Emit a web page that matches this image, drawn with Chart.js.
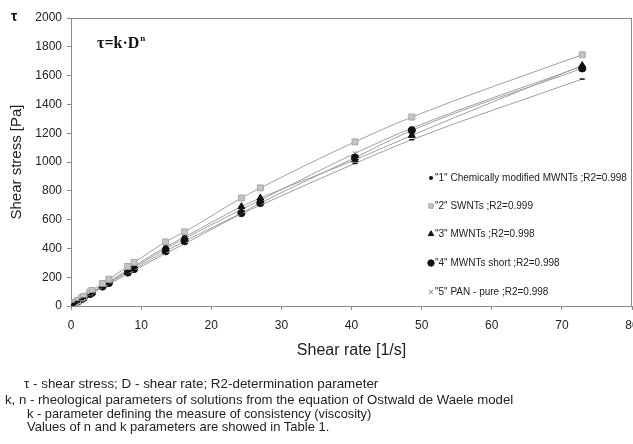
<!DOCTYPE html>
<html>
<head>
<meta charset="utf-8">
<script src="https://cdn.jsdelivr.net/npm/chart.js@4/dist/chart.umd.min.js"></script>
<style>
  html, body { margin: 0; padding: 0; background: #fff; }
  #wrap { position: relative; width: 633px; height: 444px; overflow: hidden; }
  #wrap canvas { position: absolute; left: 0; top: 0; }
  .note {
    position: absolute;
    font: 13px "Liberation Sans", Arial, sans-serif;
    color: #222;
    white-space: nowrap;
    line-height: 14px;
  }
</style>
</head>
<body>
<div id="wrap">
  <canvas id="chart" width="633" height="444"></canvas>
  <div class="note" style="left:24px; top:377px; font-size:13.4px">τ - shear stress; D - shear rate; R2-determination parameter</div>
  <div class="note" style="left:5px; top:393px; font-size:13.2px">k, n - rheological parameters of solutions from the equation of Ostwald de Waele model</div>
  <div class="note" style="left:27px; top:407px; font-size:12.8px">k - parameter defining the measure of consistency (viscosity)</div>
  <div class="note" style="left:27px; top:420px">Values of n and k parameters are showed in Table 1.</div>
</div>
<script>
// shear rates of the rheometer [1/s]
const shearRate = [0.1667, 0.3, 0.333, 0.5, 0.6, 0.9, 1.0, 1.5, 1.8, 2.7, 3.0, 4.5, 5.4, 8.1, 9.0, 13.5, 16.2, 24.3, 27.0, 40.5, 48.6, 72.9];

// shear stress [Pa]
const chemModified = [6, 10, 11, 16, 19, 28, 31, 45, 54, 78, 87, 128, 152, 222, 246, 365, 432, 640, 700, 990, 1155, 1576];
const swnts = [7, 13, 14, 20, 24, 35, 38, 56, 67, 97, 108, 156, 186, 275, 303, 445, 515, 750, 820, 1140, 1312, 1745];
const mwnts = [6, 12, 13, 18, 22, 32, 35, 51, 61, 88, 97, 143, 170, 250, 276, 410, 480, 690, 750, 1015, 1185, 1670];
const mwntsShort = [6, 11, 12, 17, 21, 30, 33, 48, 57, 83, 92, 135, 160, 232, 257, 380, 450, 645, 715, 1030, 1220, 1650];
const panPure = [6, 11, 12, 18, 21, 31, 34, 50, 59, 86, 95, 140, 166, 243, 268, 398, 468, 670, 735, 1060, 1235, 1665];

const seriesLabels = [
  '"1" Chemically modified MWNTs ;R2=0.998',
  '"2" SWNTs ;R2=0.999',
  '"3" MWNTs ;R2=0.998',
  '"4" MWNTs short ;R2=0.998',
  '"5" PAN - pure ;R2=0.998',
];

const xTicks = [0, 10, 20, 30, 40, 50, 60, 70, 80];
const yTicks = [0, 200, 400, 600, 800, 1000, 1200, 1400, 1600, 1800, 2000];

const font = '"Liberation Sans", Arial, sans-serif';
const lineColor = "#a0a0a0";
const axisColor = "#8a8a8a";

function series(label, values, style) {
  return {
    label,
    data: shearRate.map((x, i) => ({ x, y: values[i] })),
    showLine: true,
    cubicInterpolationMode: "monotone",
    borderColor: lineColor,
    borderWidth: 1,
    pointStyle: style.pointStyle,
    pointRadius: style.radius,
    pointBackgroundColor: style.fill,
    pointBorderColor: style.stroke,
    pointBorderWidth: style.borderWidth ?? 1,
  };
}

const styles = [
  { pointStyle: "line", radius: 2.5, fill: "#111", stroke: "#111", borderWidth: 1.5 },
  { pointStyle: "rect", radius: 4.2, fill: "#c4c4c4", stroke: "#a8a8a8" },
  { pointStyle: "triangle", radius: 4, fill: "#111", stroke: "#111" },
  { pointStyle: "circle", radius: 3.6, fill: "#111", stroke: "#111" },
  { pointStyle: "crossRot", radius: 3, fill: "#aaa", stroke: "#a0a0a0", borderWidth: 1.2 },
];

// legend drawn inside the plot, plus the frame and the formula
const overlay = {
  id: "overlay",
  beforeDatasetsDraw(chart) {
    const { ctx, chartArea: a } = chart;
    ctx.save();
    ctx.strokeStyle = axisColor;
    ctx.lineWidth = 1;
    ctx.strokeRect(Math.round(a.left) + 0.5, Math.round(a.top) + 0.5,
      Math.round(a.right - a.left) - 1, Math.round(a.bottom - a.top));
    ctx.restore();
  },
  afterDatasetsDraw(chart) {
    const { ctx } = chart;
    ctx.save();
    // formula
    ctx.fillStyle = "#111";
    ctx.textBaseline = "middle";
    ctx.font = 'bold 16px "Liberation Serif", "Times New Roman", serif';
    ctx.fillText("τ=k·D", 97, 44);
    const w = ctx.measureText("τ=k·D").width;
    ctx.font = 'bold 9px "Liberation Serif", "Times New Roman", serif';
    ctx.fillText("n", 97 + w + 1, 39);
    // axis symbol
    ctx.font = `bold 14px ${font}`;
    ctx.fillText("τ", 11, 17);

    // legend
    const rows = [178, 206, 234, 263, 292];
    ctx.font = `10px ${font}`;
    chart.data.datasets.forEach((ds, i) => {
      const st = styles[i];
      ctx.fillStyle = st.fill;
      ctx.strokeStyle = st.stroke;
      ctx.lineWidth = st.borderWidth ?? 1;
      const legendStyle = i === 0 ? "circle" : st.pointStyle;
      const r = i === 0 ? 1.3 : Math.min(st.radius, 3.2);
      Chart.helpers.drawPoint(ctx, { pointStyle: legendStyle, radius: r, rotation: 0, borderWidth: ctx.lineWidth }, 431, rows[i]);
      ctx.fillStyle = "#222";
      ctx.fillText(ds.label, 435, rows[i] + 0.5);
    });
    ctx.restore();
  },
};

new Chart(document.querySelector("#chart"), {
  type: "scatter",
  data: {
    datasets: [
      series(seriesLabels[0], chemModified, styles[0]),
      series(seriesLabels[1], swnts, styles[1]),
      series(seriesLabels[2], mwnts, styles[2]),
      series(seriesLabels[3], mwntsShort, styles[3]),
      series(seriesLabels[4], panPure, styles[4]),
    ],
  },
  options: {
    responsive: false,
    animation: false,
    devicePixelRatio: 1,
    layout: { autoPadding: false, padding: { top: 18, right: 1, bottom: 78, left: 0 } },
    plugins: {
      legend: { display: false },
      tooltip: { enabled: false },
    },
    scales: {
      x: {
        type: "linear",
        min: 0,
        max: 80,
        afterBuildTicks(scale) {
          scale.ticks = xTicks.map((value) => ({ value }));
        },
        afterFit(scale) {
          scale.height = 60;
          scale.paddingLeft = 0;
          scale.paddingRight = 0;
        },
        ticks: { color: "#222", font: { family: font, size: 12 }, padding: 8, maxRotation: 0, callback: (v) => String(v) },
        grid: { drawOnChartArea: false, tickLength: 4, color: axisColor },
        border: { color: axisColor },
        title: {
          display: true,
          text: "Shear rate [1/s]",
          color: "#222",
          font: { family: font, size: 16 },
          padding: { top: 0, bottom: 6 },
        },
      },
      y: {
        min: 0,
        max: 2000,
        afterBuildTicks(scale) {
          scale.ticks = yTicks.map((value) => ({ value }));
        },
        afterFit(scale) {
          scale.width = 71;
          scale.paddingTop = 0;
          scale.paddingBottom = 0;
        },
        ticks: { color: "#222", font: { family: font, size: 12 }, padding: 5, callback: (v) => String(v) },
        grid: { drawOnChartArea: false, tickLength: 4, color: axisColor },
        border: { color: axisColor },
        title: {
          display: true,
          text: "Shear stress [Pa]",
          color: "#222",
          font: { family: font, size: 15 },
          padding: { top: 8, bottom: 0 },
        },
      },
    },
  },
  plugins: [overlay],
});
</script>
</body>
</html>
